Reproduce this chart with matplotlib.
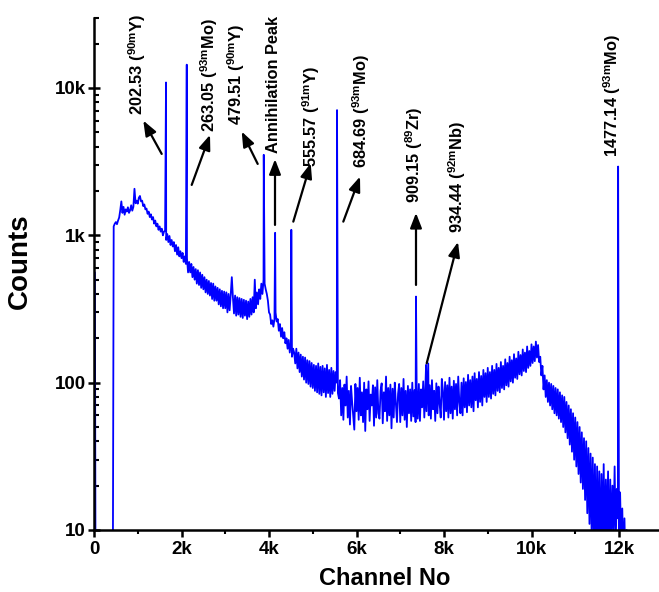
import numpy as np
import matplotlib
matplotlib.use("Agg")
import matplotlib.pyplot as plt
from matplotlib.ticker import FixedLocator, FixedFormatter, LogLocator, NullFormatter

plt.rcParams['font.family'] = ['Liberation Sans', 'DejaVu Sans']
plt.rcParams['mathtext.fontset'] = 'custom'
plt.rcParams['mathtext.rm'] = 'Liberation Sans'
plt.rcParams['mathtext.bf'] = 'Liberation Sans:bold'
plt.rcParams['mathtext.default'] = 'bf'

# ---------------- data ----------------
# channel-0 spike and the empty start of the spectrum
start_channel = [0, 20, 40]
start_counts = [560, 560, 1]

# continuum counts, channel 400 onward, every 25 channels (8 values per 200 channels)
CONT_START, CONT_STEP = 400, 25
cont_counts = [
    1, 1, 1150, 1200, 1230, 1190, 1260, 1320,            # 400
    1480, 1700, 1420, 1560, 1380, 1500, 1450, 1550,      # 600
    1420, 1480, 1600, 1470, 1560, 2070, 1650, 1720,      # 800
    1640, 1800, 1850, 1700, 1720, 1580, 1620, 1500,      # 1000
    1520, 1400, 1450, 1330, 1390, 1280, 1330, 1200,      # 1200
    1260, 1150, 1200, 1090, 1150, 1060, 1110, 1000,      # 1400
    1060, 1080, 930, 1020, 900, 990, 860, 930,           # 1600
    840, 900, 780, 860, 740, 830, 720, 780,              # 1800
    700, 760, 660, 720, 640, 700, 560, 660,              # 2000
    560, 640, 520, 610, 500, 590, 470, 580,              # 2200
    460, 560, 440, 540, 430, 520, 410, 500,              # 2400
    400, 490, 390, 475, 370, 470, 360, 450,              # 2600
    360, 440, 340, 430, 330, 420, 320, 415,              # 2800
    320, 410, 300, 400, 310, 395, 520, 380,              # 3000
    295, 390, 285, 380, 290, 375, 280, 370,              # 3200
    275, 365, 285, 360, 270, 355, 280, 370,              # 3400
    290, 380, 300, 500, 320, 410, 340, 430,              # 3600
    370, 470, 400, 500, 470, 430, 400, 360,              # 3800
    300, 290, 250, 265, 240, 270, 300, 260,              # 4000
    270, 225, 250, 205, 235, 200, 220, 185,              # 4200
    200, 170, 195, 160, 185, 150, 170, 160,              # 4400
    135, 170, 125, 160, 118, 155, 110, 150,              # 4600
    105, 148, 100, 142, 98, 140, 94, 136,                # 4800
    92, 132, 88, 130, 86, 135, 84, 128,                  # 5000
    82, 130, 86, 125, 80, 132, 85, 122,                  # 5200
    80, 126, 84, 120, 88, 118, 100, 85,                  # 5400
    78, 104, 60, 92, 56, 97, 70, 110,                    # 5600
    58, 88, 52, 95, 74, 60, 48, 98,                      # 5800
    64, 92, 56, 108, 60, 86, 54, 100,                    # 6000
    47, 90, 66, 102, 55, 83, 70, 96,                     # 6200
    51, 93, 58, 104, 62, 57, 88, 99,                     # 6400
    53, 86, 64, 110, 55, 92, 60, 97,                     # 6600
    49, 91, 58, 100, 72, 54, 84, 98,                     # 6800
    54, 92, 60, 106, 56, 88, 50, 95,                     # 7000
    62, 90, 55, 100, 59, 89, 54, 93,                     # 7200
    57, 98, 55, 90, 68, 102, 58, 94,                     # 7400
    64, 100, 60, 96, 57, 104, 66, 88,                    # 7600
    55, 99, 62, 94, 72, 58, 106, 88,                     # 7800
    56, 101, 64, 96, 58, 108, 62, 94,                    # 8000
    57, 103, 66, 98, 60, 110, 74, 62,                    # 8200
    100, 60, 107, 68, 101, 63, 113, 70,                  # 8400
    104, 68, 110, 64, 116, 76, 106, 68,                  # 8600
    118, 74, 111, 70, 122, 80, 116, 74,                  # 8800
    126, 80, 118, 78, 130, 84, 122, 82,                  # 9000
    134, 88, 126, 86, 138, 92, 130, 90,                  # 9200
    144, 96, 136, 94, 150, 102, 142, 100,                # 9400
    156, 108, 146, 106, 162, 114, 154, 112,              # 9600
    168, 120, 160, 118, 176, 126, 164, 130,              # 9800
    182, 136, 176, 140, 190, 148, 180, 138,              # 10000
    150, 112, 130, 90, 112, 80, 104, 74,                 # 10200
    100, 70, 98, 66, 95, 62, 92, 60,                     # 10400
    90, 57, 86, 54, 82, 50, 80, 46,                      # 10600
    74, 42, 70, 38, 66, 34, 62, 30,                      # 10800
    58, 27, 54, 24, 50, 21, 46, 19,                      # 11000
    42, 16, 40, 13, 36, 11, 33, 9,                       # 11200
    31, 8, 28, 7, 27, 8, 25, 6,                          # 11400
    24, 8, 28, 7, 22, 9, 25, 6,                          # 11600
    22, 8, 20, 10, 27, 8, 19, 12,                        # 11800
    10, 18, 8, 14, 6, 12, 5, 10,                         # 12000
    4, 3, 2, 2, 2, 2, 2, 2,                              # 12200
]
end_channel = [12900]
end_counts = [2]

# photo-peaks: channel and peak counts
peak_channel = [1646, 2120, 3880, 4140, 4510, 5555, 7360, 7590, 7640, 11980]
peak_counts = [10900, 14400, 3520, 1040, 1090, 7080, 384, 132, 135, 2930]

# annotation labels
labels = ['202.53 ($^{90m}$Y)', '263.05 ($^{93m}$Mo)', '479.51 ($^{90m}$Y)',
          'Annihilation Peak', '555.57 ($^{91m}$Y)', '684.69 ($^{93m}$Mo)',
          '909.15 ($^{89}$Zr)', '934.44 ($^{92m}$Nb)', '1477.14 ($^{93m}$Mo)']

x_ticks = [0, 2000, 4000, 6000, 8000, 10000, 12000]
x_ticklabels = ['0', '2k', '4k', '6k', '8k', '10k', '12k']
x_minor = [1000, 3000, 5000, 7000, 9000, 11000]
y_ticks = [10, 100, 1000, 10000]
y_ticklabels = ['10', '100', '1k', '10k']

# ---------------- layout ----------------
W, H = 659, 592
fig = plt.figure(figsize=(W / 100, H / 100), dpi=100)
ax = fig.add_axes([94 / W, 1 - 530 / H, (W - 94) / W, (530 - 17.7) / H])

XMAX = (W - 94) / 43.75 * 1000
ax.set_xlim(0, XMAX)
ax.set_yscale('log')
ax.set_ylim(10, 30000)


def px2data(px, py):
    return (px - 94) / 43.75 * 1000, 10 ** (1 + (530 - py) / 147.3)


cont_channel = CONT_START + CONT_STEP * np.arange(len(cont_counts))
ch = np.concatenate([start_channel, cont_channel, end_channel, peak_channel]).astype(float)
ct = np.concatenate([start_counts, cont_counts, end_counts, peak_counts]).astype(float)
order = np.argsort(ch, kind='stable')
ax.plot(ch[order], ct[order], color='#0000ff', lw=1.3, zorder=2)

# text anchor (baseline x, start y) and arrows (tail -> head), in pixels
text_pos = [(143.3, 115), (215, 131.7), (241.7, 125), (278.3, 153.3),
            (316.7, 166.7), (366.7, 168.3), (420, 203.3), (463.3, 233.3),
            (618.3, 156.7)]
arrows = [((161.7, 154), (143.3, 120.7)), ((191.7, 185), (210, 135)),
          ((257.7, 164), (241.7, 131.7)), ((275, 225), (275, 159.3)),
          ((293.3, 221.7), (310.7, 163.3)), ((343.3, 221.7), (360, 176.7)),
          ((416, 285), (416, 213)), ((426.7, 363.3), (458, 242))]

for lab, (tx, ty) in zip(labels, text_pos):
    x, y = px2data(tx, ty)
    ax.text(x, y, lab, rotation=90, rotation_mode='anchor', ha='left',
            va='baseline', fontsize=11.8, fontweight='bold', color='black',
            zorder=4)

for (t, h) in arrows:
    ax.annotate('', xy=px2data(*h), xytext=px2data(*t),
                arrowprops=dict(arrowstyle='-|>,head_length=0.9,head_width=0.35',
                                color='black', lw=1.6, shrinkA=0, shrinkB=0),
                zorder=5)

for s in ['top', 'right']:
    ax.spines[s].set_visible(False)
for s in ['left', 'bottom']:
    ax.spines[s].set_linewidth(1.8)
    ax.spines[s].set_zorder(6)

ax.xaxis.set_major_locator(FixedLocator(x_ticks))
ax.xaxis.set_major_formatter(FixedFormatter(x_ticklabels))
ax.xaxis.set_minor_locator(FixedLocator(x_minor))
ax.yaxis.set_major_locator(FixedLocator(y_ticks))
ax.yaxis.set_major_formatter(FixedFormatter(y_ticklabels))
ax.yaxis.set_minor_locator(LogLocator(base=10, subs=np.arange(2, 10)))
ax.yaxis.set_minor_formatter(NullFormatter())

ax.tick_params(axis='x', which='major', labelsize=13.5, width=1.8,
               length=5, direction='out', pad=3)
ax.tick_params(axis='x', which='minor', width=1.5, length=3, direction='out')
ax.tick_params(axis='y', which='major', labelsize=13.5, width=1.8,
               length=8, direction='inout', pad=2)
ax.tick_params(axis='y', which='minor', width=1.5, length=3.5, direction='in')
for lab in ax.get_xticklabels() + ax.get_yticklabels():
    lab.set_fontweight('bold')

fig.text(385 / W, 1 - 585 / H, 'Channel No', fontsize=17, fontweight='bold',
         ha='center', va='baseline')
fig.text(27 / W, 1 - 261.5 / H, 'Counts', fontsize=20, fontweight='bold',
         ha='center', va='baseline', rotation=90, rotation_mode='anchor')

fig.savefig('out.png', dpi=100)
